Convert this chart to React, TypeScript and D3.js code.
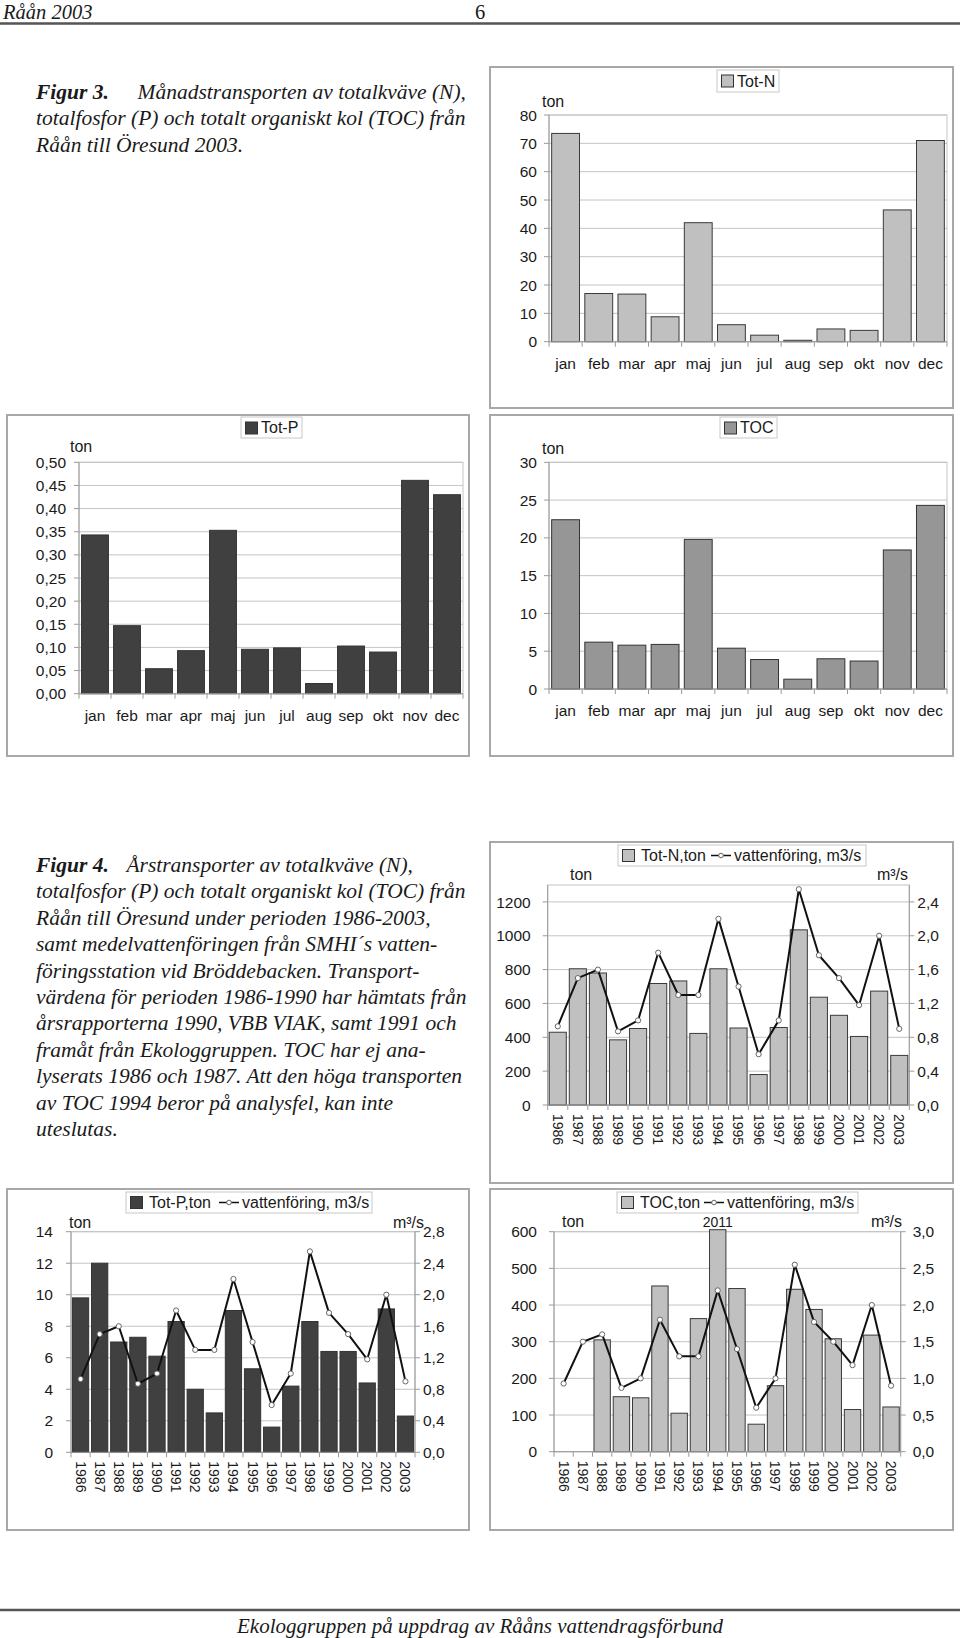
import React from "react";
import * as d3 from "d3";

// ---------- DATA ----------
const months = ["jan", "feb", "mar", "apr", "maj", "jun", "jul", "aug", "sep", "okt", "nov", "dec"];
const totNMonthly = [73.5, 17, 16.8, 8.8, 42, 6, 2.3, 0.5, 4.5, 4, 46.5, 71];
const totPMonthly = [0.343, 0.147, 0.054, 0.093, 0.353, 0.096, 0.099, 0.022, 0.103, 0.09, 0.461, 0.43];
const tocMonthly = [22.4, 6.2, 5.8, 5.9, 19.8, 5.4, 3.9, 1.3, 4.0, 3.7, 18.4, 24.3];
const totNMonthlyTicks = [0, 10, 20, 30, 40, 50, 60, 70, 80];
const totPMonthlyTicks = [0, 0.05, 0.1, 0.15, 0.2, 0.25, 0.3, 0.35, 0.4, 0.45, 0.5];
const tocMonthlyTicks = [0, 5, 10, 15, 20, 25, 30];

const years = ["1986", "1987", "1988", "1989", "1990", "1991", "1992", "1993", "1994", "1995", "1996", "1997", "1998", "1999", "2000", "2001", "2002", "2003"];
const totNAnnual = [430, 805, 780, 385, 452, 718, 733, 423, 805, 455, 180, 458, 1035, 637, 530, 405, 673, 293];
const totPAnnual = [9.8, 12.0, 7.0, 7.3, 6.1, 8.3, 4.0, 2.5, 9.0, 5.3, 1.6, 4.2, 8.3, 6.4, 6.4, 4.4, 9.1, 2.3];
const tocAnnual: (number | null)[] = [null, null, 305, 150, 147, 452, 105, 363, 2011, 445, 75, 180, 443, 388, 308, 115, 318, 122];
const flowAnnual = [0.93, 1.5, 1.6, 0.87, 1.0, 1.8, 1.3, 1.3, 2.2, 1.4, 0.6, 1.0, 2.55, 1.77, 1.5, 1.18, 2.0, 0.9];
const totNAnnualTicks = [0, 200, 400, 600, 800, 1000, 1200];
const totNFlowTicks = [0, 0.4, 0.8, 1.2, 1.6, 2.0, 2.4];
const totPAnnualTicks = [0, 2, 4, 6, 8, 10, 12, 14];
const totPFlowTicks = [0, 0.4, 0.8, 1.2, 1.6, 2.0, 2.4, 2.8];
const tocAnnualTicks = [0, 100, 200, 300, 400, 500, 600];
const tocFlowTicks = [0, 0.5, 1.0, 1.5, 2.0, 2.5, 3.0];

const fig3Lines = [
  "totalfosfor (P) och totalt organiskt kol (TOC) från",
  "Råån till Öresund 2003.",
];
const fig3First = "Månadstransporten av totalkväve (N),";
const fig4First = "Årstransporter av totalkväve (N),";
const fig4Lines = [
  "totalfosfor (P) och totalt organiskt kol (TOC) från",
  "Råån till Öresund under perioden 1986-2003,",
  "samt medelvattenföringen från SMHI´s vatten-",
  "föringsstation vid Bröddebacken. Transport-",
  "värdena för perioden 1986-1990 har hämtats från",
  "årsrapporterna 1990, VBB VIAK, samt 1991 och",
  "framåt från Ekologgruppen. TOC har ej ana-",
  "lyserats 1986 och 1987. Att den höga transporten",
  "av TOC 1994 beror på analysfel, kan inte",
  "uteslutas.",
];

// ---------- STYLE ----------
const SANS = "'Liberation Sans', Arial, Helvetica, sans-serif";
const SERIF = "'Liberation Serif', 'Times New Roman', serif";
const TXT = "#1a1a1a";
const GRID = "#c4c4c4";
const AXIS = "#9a9a9a";
const FRAME = "#a8a8a8";

const fmt = (v: number, digits: number) => v.toFixed(digits).replace(".", ",");

type Box = { x: number; y: number; w: number; h: number };
type Plot = { l: number; t: number; r: number; b: number };

function Frame({ b }: { b: Box }) {
  return <rect x={b.x} y={b.y} width={b.w} height={b.h} fill="white" stroke={FRAME} strokeWidth={2} />;
}

function SimpleLegend({ box, label, fill }: { box: Box; label: string; fill: string }) {
  return (
    <g>
      <rect x={box.x} y={box.y} width={box.w} height={box.h} fill="white" stroke="#c8c8c8" strokeWidth={1} />
      <rect x={box.x + 4.5} y={box.y + 5} width={12} height={12} fill={fill} stroke="#333" strokeWidth={1} />
      <text x={box.x + 20} y={box.y + box.h / 2 + 5.5} fontSize={16} fill={TXT} fontFamily={SANS}>
        {label}
      </text>
    </g>
  );
}

type MonthlyProps = {
  frame: Box;
  plot: Plot;
  max: number;
  ticks: number[];
  digits: number;
  values: number[];
  fill: string;
  stroke: string;
  legend: Box;
  legendLabel: string;
  labelGap: number;
  ton: { x: number; y: number };
};

function MonthlyChart(p: MonthlyProps) {
  const { plot } = p;
  const x = d3.scaleBand<string>().domain(months).range([plot.l, plot.r]).padding(0);
  const bw = x.bandwidth();
  const y = d3.scaleLinear().domain([0, p.max]).range([plot.b, plot.t]);
  return (
    <g fontFamily={SANS}>
      <Frame b={p.frame} />
      <rect x={plot.l} y={plot.t} width={plot.r - plot.l} height={plot.b - plot.t} fill="white" stroke={GRID} strokeWidth={1} />
      {p.ticks.map((t) => (
        <g key={t}>
          <line x1={plot.l} x2={plot.r} y1={y(t)} y2={y(t)} stroke={GRID} strokeWidth={1} />
          <line x1={plot.l - 5} x2={plot.l} y1={y(t)} y2={y(t)} stroke={AXIS} strokeWidth={1} />
          <text x={plot.l - p.labelGap} y={y(t)} dy="0.36em" textAnchor="end" fontSize={15.5} fill={TXT}>
            {fmt(t, p.digits)}
          </text>
        </g>
      ))}
      <line x1={plot.l} x2={plot.l} y1={plot.t} y2={plot.b} stroke={AXIS} strokeWidth={1} />
      {months.map((m, i) => (
        <g key={m}>
          <rect
            x={x(m)! + bw * 0.08}
            y={y(p.values[i])}
            width={bw * 0.84}
            height={plot.b - y(p.values[i])}
            fill={p.fill}
            stroke={p.stroke}
            strokeWidth={1}
          />
          <text x={x(m)! + bw / 2} y={plot.b + 27} textAnchor="middle" fontSize={15.5} fill={TXT}>
            {m}
          </text>
        </g>
      ))}
      <line x1={plot.l} x2={plot.r} y1={plot.b} y2={plot.b} stroke={AXIS} strokeWidth={1} />
      {d3.range(months.length + 1).map((i) => {
        const xx = plot.l + i * bw;
        return <line key={i} x1={xx} x2={xx} y1={plot.b} y2={plot.b + 5} stroke={AXIS} strokeWidth={1} />;
      })}
      <text x={p.ton.x} y={p.ton.y} fontSize={16} fill={TXT}>
        ton
      </text>
      <SimpleLegend box={p.legend} label={p.legendLabel} fill={p.fill} />
    </g>
  );
}

type AnnualProps = {
  frame: Box;
  plot: Plot;
  leftMax: number;
  leftTicks: number[];
  rightMax: number;
  rightTicks: number[];
  values: (number | null)[];
  flow: number[];
  fill: string;
  stroke: string;
  leftGap: number;
  rightGap: number;
  unitY: number;
  tonX: number;
  m3X: number;
  legend: Box;
  legendLabel: string;
  legendText1X: number;
  legendLineX: number;
  legendText2X: number;
  overflowLabel?: boolean;
};

function AnnualChart(p: AnnualProps) {
  const { plot } = p;
  const x = d3.scaleBand<string>().domain(years).range([plot.l, plot.r]).padding(0);
  const bw = x.bandwidth();
  const yL = d3.scaleLinear().domain([0, p.leftMax]).range([plot.b, plot.t]);
  const yR = d3.scaleLinear().domain([0, p.rightMax]).range([plot.b, plot.t]);
  const line = d3
    .line<number>()
    .x((_, i) => x(years[i])! + bw / 2)
    .y((d) => yR(d));
  const lg = p.legend;
  const ly = lg.y + lg.h / 2;
  return (
    <g fontFamily={SANS}>
      <Frame b={p.frame} />
      <rect x={plot.l} y={plot.t} width={plot.r - plot.l} height={plot.b - plot.t} fill="white" stroke={GRID} strokeWidth={1} />
      {p.leftTicks.map((t) => (
        <g key={"l" + t}>
          <line x1={plot.l} x2={plot.r} y1={yL(t)} y2={yL(t)} stroke={GRID} strokeWidth={1} />
          <line x1={plot.l - 5} x2={plot.l} y1={yL(t)} y2={yL(t)} stroke={AXIS} strokeWidth={1} />
          <text x={plot.l - p.leftGap} y={yL(t)} dy="0.36em" textAnchor="end" fontSize={15.5} fill={TXT}>
            {fmt(t, 0)}
          </text>
        </g>
      ))}
      {p.rightTicks.map((t) => (
        <g key={"r" + t}>
          <line x1={plot.r} x2={plot.r + 5} y1={yR(t)} y2={yR(t)} stroke={AXIS} strokeWidth={1} />
          <text x={plot.r + p.rightGap} y={yR(t)} dy="0.36em" textAnchor="start" fontSize={15.5} fill={TXT}>
            {fmt(t, 1)}
          </text>
        </g>
      ))}
      <line x1={plot.l} x2={plot.l} y1={plot.t} y2={plot.b} stroke={AXIS} strokeWidth={1} />
      <line x1={plot.r} x2={plot.r} y1={plot.t} y2={plot.b} stroke={AXIS} strokeWidth={1} />
      {years.map((yr, i) => {
        const v = p.values[i];
        const cx = x(yr)! + bw / 2;
        return (
          <g key={yr}>
            {v != null && (
              <rect
                x={x(yr)! + bw * 0.075}
                y={yL(Math.min(v, p.leftMax)) - (v > p.leftMax ? 2 : 0)}
                width={bw * 0.85}
                height={plot.b - yL(Math.min(v, p.leftMax)) + (v > p.leftMax ? 2 : 0)}
                fill={p.fill}
                stroke={p.stroke}
                strokeWidth={1}
              />
            )}
            {v != null && v > p.leftMax && p.overflowLabel && (
              <text x={cx} y={p.unitY} textAnchor="middle" fontSize={14} fill={TXT}>
                {String(v)}
              </text>
            )}
            <text
              transform={`translate(${cx},${plot.b + 9}) rotate(90)`}
              dy="0.36em"
              textAnchor="start"
              fontSize={14}
              fill={TXT}
            >
              {yr}
            </text>
          </g>
        );
      })}
      <line x1={plot.l} x2={plot.r} y1={plot.b} y2={plot.b} stroke={AXIS} strokeWidth={1} />
      {d3.range(years.length + 1).map((i) => {
        const xx = plot.l + i * bw;
        return <line key={i} x1={xx} x2={xx} y1={plot.b} y2={plot.b + 5} stroke={AXIS} strokeWidth={1} />;
      })}
      <path d={line(p.flow) || ""} fill="none" stroke="#111" strokeWidth={2} strokeLinejoin="round" />
      {p.flow.map((f, i) => (
        <circle key={i} cx={x(years[i])! + bw / 2} cy={yR(f)} r={2.6} fill="white" stroke="#666" strokeWidth={1} />
      ))}
      <text x={p.tonX} y={p.unitY} fontSize={16} fill={TXT}>
        ton
      </text>
      <text x={p.m3X} y={p.unitY} textAnchor="end" fontSize={16} fill={TXT}>
        m³/s
      </text>
      {/* legend */}
      <rect x={lg.x} y={lg.y} width={lg.w} height={lg.h} fill="white" stroke="#c8c8c8" strokeWidth={1} />
      <rect x={lg.x + 4.5} y={ly - 6} width={12} height={12} fill={p.fill} stroke="#333" strokeWidth={1} />
      <text x={p.legendText1X} y={ly + 5.5} fontSize={16} fill={TXT}>
        {p.legendLabel}
      </text>
      <line x1={p.legendLineX} x2={p.legendLineX + 20} y1={ly} y2={ly} stroke="#111" strokeWidth={1.5} />
      <circle cx={p.legendLineX + 10} cy={ly} r={2.3} fill="white" stroke="#666" strokeWidth={1} />
      <text x={p.legendText2X} y={ly + 5.5} fontSize={16} fill={TXT}>
        vattenföring, m3/s
      </text>
    </g>
  );
}

export default function App() {
  const capX = 36;
  const capFS = 21.5;
  const capGap = 26.4;
  const fig3Y = 99;
  const fig4Y = 872;
  return (
    <div style={{ position: "absolute", left: 0, top: 0, width: 960, height: 1638, background: "white" }}>
      <svg width={960} height={1638} style={{ display: "block" }}>
        {/* header */}
        <g fontFamily={SERIF} fontStyle="italic" fill={TXT}>
          <text x={3} y={18.5} fontSize={20.5}>
            Råån 2003
          </text>
          <text x={475} y={18.5} fontSize={20.5} fontStyle="normal">
            6
          </text>
        </g>
        <line x1={0} x2={960} y1={23.5} y2={23.5} stroke="#555" strokeWidth={2.5} />

        {/* Figur 3 caption */}
        <g fontFamily={SERIF} fontStyle="italic" fontSize={capFS} fill={TXT}>
          <text x={capX} y={fig3Y} fontWeight="bold">
            Figur 3.
          </text>
          <text x={466} y={fig3Y} textAnchor="end">
            {fig3First}
          </text>
          {fig3Lines.map((l, i) => (
            <text key={i} x={capX} y={fig3Y + (i + 1) * capGap}>
              {l}
            </text>
          ))}
        </g>

        <MonthlyChart
          frame={{ x: 490, y: 67, w: 463, h: 341 }}
          plot={{ l: 549, t: 115, r: 947, b: 341.7 }}
          max={80}
          ticks={totNMonthlyTicks}
          digits={0}
          values={totNMonthly}
          fill="#c0c0c0"
          stroke="#3a3a3a"
          legend={{ x: 717, y: 70, w: 62, h: 22 }}
          legendLabel="Tot-N"
          labelGap={12}
          ton={{ x: 542, y: 107 }}
        />
        <MonthlyChart
          frame={{ x: 7, y: 415, w: 462, h: 341 }}
          plot={{ l: 79, t: 462.3, r: 463, b: 693.7 }}
          max={0.5}
          ticks={totPMonthlyTicks}
          digits={2}
          values={totPMonthly}
          fill="#404040"
          stroke="#333"
          legend={{ x: 241, y: 417, w: 61, h: 21 }}
          legendLabel="Tot-P"
          labelGap={13}
          ton={{ x: 70, y: 452 }}
        />
        <MonthlyChart
          frame={{ x: 490, y: 415, w: 463, h: 341 }}
          plot={{ l: 549, t: 462.3, r: 947, b: 689 }}
          max={30}
          ticks={tocMonthlyTicks}
          digits={0}
          values={tocMonthly}
          fill="#969696"
          stroke="#333"
          legend={{ x: 720, y: 417, w: 57, h: 21 }}
          legendLabel="TOC"
          labelGap={12}
          ton={{ x: 542, y: 454 }}
        />

        {/* Figur 4 caption */}
        <g fontFamily={SERIF} fontStyle="italic" fontSize={capFS} fill={TXT}>
          <text x={capX} y={fig4Y} fontWeight="bold">
            Figur 4.
          </text>
          <text x={413} y={fig4Y} textAnchor="end">
            {fig4First}
          </text>
          {fig4Lines.map((l, i) => (
            <text key={i} x={capX} y={fig4Y + (i + 1) * capGap}>
              {l}
            </text>
          ))}
        </g>

        <AnnualChart
          frame={{ x: 490, y: 842, w: 463, h: 341 }}
          plot={{ l: 547.7, t: 885, r: 909.3, b: 1105 }}
          leftMax={1300}
          leftTicks={totNAnnualTicks}
          rightMax={2.6}
          rightTicks={totNFlowTicks}
          values={totNAnnual}
          flow={flowAnnual}
          fill="#c0c0c0"
          stroke="#3a3a3a"
          leftGap={17}
          rightGap={8}
          unitY={880}
          tonX={570}
          m3X={908}
          legend={{ x: 618, y: 845, w: 248, h: 21 }}
          legendLabel="Tot-N,ton"
          legendText1X={641}
          legendLineX={711}
          legendText2X={734}
        />
        <AnnualChart
          frame={{ x: 7, y: 1189, w: 462, h: 341 }}
          plot={{ l: 71, t: 1231.7, r: 415, b: 1452.3 }}
          leftMax={14}
          leftTicks={totPAnnualTicks}
          rightMax={2.8}
          rightTicks={totPFlowTicks}
          values={totPAnnual}
          flow={flowAnnual}
          fill="#404040"
          stroke="#333"
          leftGap={18}
          rightGap={8}
          unitY={1228}
          tonX={69}
          m3X={424}
          legend={{ x: 126, y: 1192, w: 246, h: 21 }}
          legendLabel="Tot-P,ton"
          legendText1X={149}
          legendLineX={219}
          legendText2X={242}
        />
        <AnnualChart
          frame={{ x: 490, y: 1189, w: 463, h: 341 }}
          plot={{ l: 554, t: 1231.7, r: 900.7, b: 1451.7 }}
          leftMax={600}
          leftTicks={tocAnnualTicks}
          rightMax={3.0}
          rightTicks={tocFlowTicks}
          values={tocAnnual}
          flow={flowAnnual}
          fill="#c0c0c0"
          stroke="#3a3a3a"
          leftGap={17}
          rightGap={12}
          unitY={1227}
          tonX={562}
          m3X={902}
          legend={{ x: 617, y: 1192, w: 241, h: 21 }}
          legendLabel="TOC,ton"
          legendText1X={640}
          legendLineX={704}
          legendText2X={727}
          overflowLabel
        />

        {/* footer */}
        <line x1={0} x2={960} y1={1610} y2={1610} stroke="#555" strokeWidth={2.5} />
        <text x={480} y={1633} textAnchor="middle" fontFamily={SERIF} fontStyle="italic" fontSize={21} fill={TXT}>
          Ekologgruppen på uppdrag av Rååns vattendragsförbund
        </text>
      </svg>
    </div>
  );
}
